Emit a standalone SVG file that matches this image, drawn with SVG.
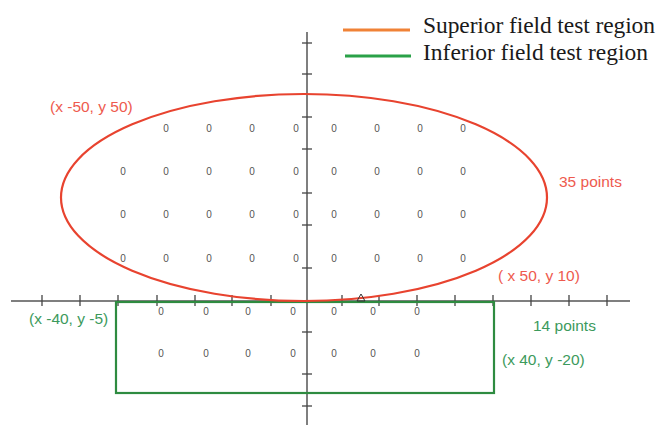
<svg xmlns="http://www.w3.org/2000/svg" width="663" height="426" viewBox="0 0 663 426">
<style>
.axis{stroke:#555;stroke-width:1.5;fill:none}
.tick{stroke:#444;stroke-width:1.3}
.pt{font-family:"Liberation Sans",Arial,sans-serif;font-size:10px;fill:#555;text-anchor:middle}
.rl{font-family:"Liberation Sans",Arial,sans-serif;font-size:15.5px;fill:#ee5a4e}
.gl{font-family:"Liberation Sans",Arial,sans-serif;font-size:15.5px;fill:#3c9a5c}
.leg{font-family:"Liberation Serif","Times New Roman",serif;font-size:23.5px;fill:#1a1a1a}
</style>
<rect width="663" height="426" fill="#fff"/>
<g id="axes">
<line class="axis" x1="11" y1="301" x2="630" y2="301"/>
<line class="axis" x1="307" y1="32" x2="307" y2="425"/>
<g class="tick">
<line x1="42" y1="295" x2="42" y2="306"/><line x1="80" y1="295" x2="80" y2="306"/><line x1="118" y1="295" x2="118" y2="306"/><line x1="157" y1="295" x2="157" y2="306"/><line x1="195" y1="295" x2="195" y2="306"/><line x1="232" y1="295" x2="232" y2="306"/><line x1="271" y1="295" x2="271" y2="306"/><line x1="342" y1="295" x2="342" y2="306"/><line x1="379" y1="295" x2="379" y2="306"/><line x1="417" y1="295" x2="417" y2="306"/><line x1="455" y1="295" x2="455" y2="306"/><line x1="493" y1="295" x2="493" y2="306"/><line x1="531" y1="295" x2="531" y2="306"/><line x1="569" y1="295" x2="569" y2="306"/><line x1="607" y1="295" x2="607" y2="306"/>
<line x1="302" y1="43" x2="312" y2="43"/><line x1="302" y1="74" x2="312" y2="74"/><line x1="302" y1="117" x2="312" y2="117"/><line x1="302" y1="149" x2="312" y2="149"/><line x1="302" y1="193" x2="312" y2="193"/><line x1="302" y1="225" x2="312" y2="225"/><line x1="302" y1="268" x2="312" y2="268"/><line x1="302" y1="332" x2="312" y2="332"/><line x1="302" y1="374" x2="312" y2="374"/><line x1="302" y1="406" x2="312" y2="406"/>
</g>
</g>
<g id="inferior-region">
<rect x="116" y="302" width="378" height="91" fill="none" stroke="#2e8b40" stroke-width="2.2"/>
<g class="pt">
<text x="161" y="315">0</text><text x="206" y="315">0</text><text x="248" y="315">0</text><text x="293" y="315">0</text><text x="334" y="315">0</text><text x="373" y="315">0</text><text x="417" y="315">0</text>
<text x="161" y="357">0</text><text x="206" y="357">0</text><text x="248" y="357">0</text><text x="293" y="357">0</text><text x="334" y="357">0</text><text x="373" y="357">0</text><text x="417" y="357">0</text>
</g>
<text class="gl" x="29" y="324">(x -40, y -5)</text>
<text class="gl" x="533" y="331">14 points</text>
<text class="gl" x="502" y="365">(x 40, y -20)</text>
</g>
<g id="superior-region">
<ellipse cx="304" cy="197.5" rx="243" ry="103.5" fill="none" stroke="#e8432f" stroke-width="2.2"/>
<g class="pt">
<text x="166" y="132">0</text><text x="209" y="132">0</text><text x="252" y="132">0</text><text x="296" y="132">0</text><text x="334" y="132">0</text><text x="377" y="132">0</text><text x="420" y="132">0</text><text x="463" y="132">0</text>
<text x="123" y="175">0</text><text x="166" y="175">0</text><text x="209" y="175">0</text><text x="252" y="175">0</text><text x="296" y="175">0</text><text x="334" y="175">0</text><text x="377" y="175">0</text><text x="420" y="175">0</text><text x="463" y="175">0</text>
<text x="123" y="218">0</text><text x="166" y="218">0</text><text x="209" y="218">0</text><text x="252" y="218">0</text><text x="296" y="218">0</text><text x="334" y="218">0</text><text x="377" y="218">0</text><text x="420" y="218">0</text><text x="463" y="218">0</text>
<text x="123" y="262">0</text><text x="166" y="262">0</text><text x="209" y="262">0</text><text x="252" y="262">0</text><text x="296" y="262">0</text><text x="334" y="262">0</text><text x="377" y="262">0</text><text x="420" y="262">0</text><text x="463" y="262">0</text>
</g>
<text class="rl" x="50" y="112">(x -50, y 50)</text>
<text class="rl" x="559" y="187">35 points</text>
<text class="rl" x="498" y="281">( x 50, y 10)</text>
</g>
<g id="marker">
<polygon points="357,301 361,294 365,301" fill="none" stroke="#333" stroke-width="1"/>
</g>
<g id="legend">
<line x1="343" y1="30" x2="410" y2="30" stroke="#f08236" stroke-width="3"/>
<line x1="345" y1="56" x2="411" y2="56" stroke="#2aa148" stroke-width="3"/>
<text class="leg" x="423" y="33" textLength="232">Superior field test region</text>
<text class="leg" x="423" y="60" textLength="225">Inferior field test region</text>
</g>
</svg>
